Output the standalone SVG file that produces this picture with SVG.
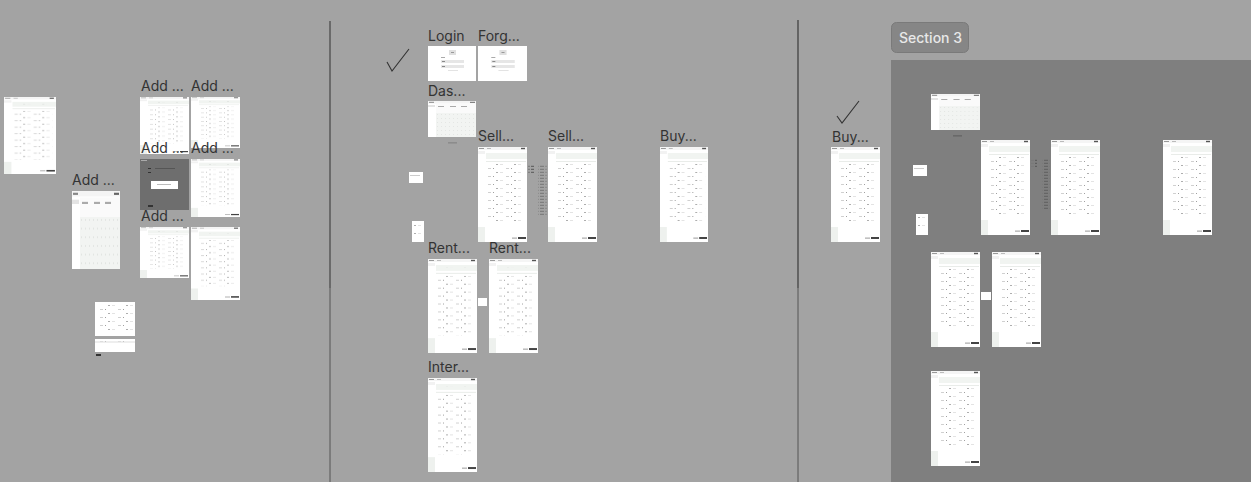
<svg xmlns="http://www.w3.org/2000/svg" xmlns:xlink="http://www.w3.org/1999/xlink" width="1251" height="482" viewBox="0 0 1251 482">
<style>
.lbl{font-family:Inter,"Liberation Sans",sans-serif;font-size:14px;fill:#333;}
.sec{font-family:Inter,"Liberation Sans",sans-serif;font-size:14px;font-weight:500;fill:#e8e8e8;}
.chk{fill:none;stroke:#333;stroke-width:1.1;}
</style>
<defs>
<pattern id="tx" width="18" height="8" patternUnits="userSpaceOnUse">
<rect x="0" y="1" width="2" height="0.8" fill="#9a9a9a"/>
<rect x="4" y="1" width="3" height="0.8" fill="#dcdcdc"/>
<rect x="10" y="5" width="3" height="0.8" fill="#c4c4c4"/>
<rect x="15" y="5" width="1" height="0.8" fill="#888"/>
</pattern>
<pattern id="dt" width="4" height="4" patternUnits="userSpaceOnUse">
<rect x="1" y="1" width="0.7" height="0.7" fill="#d5d8d5"/>
</pattern>
<pattern id="col" width="9" height="3" patternUnits="userSpaceOnUse">
<rect x="0" y="0.8" width="4" height="1" fill="#555"/>
<rect x="5" y="0.8" width="3" height="1" fill="#777"/>
</pattern>
<symbol id="page" viewBox="0 0 49 95" preserveAspectRatio="none">
<rect width="49" height="95" fill="#fff"/>
<rect x="0" y="0" width="49" height="3" fill="#f5f5f5"/>
<rect x="1" y="1" width="5" height="1" fill="#999"/>
<rect x="9" y="1" width="4" height="1" fill="#bbb"/>
<rect x="43" y="0.8" width="4" height="1.4" fill="#555"/>
<rect x="0" y="4" width="7" height="3" fill="#f2f2f2"/>
<rect x="8" y="6" width="41" height="6" fill="#f1f4f1"/>
<rect x="10" y="8" width="30" height="1" fill="url(#tx)"/>
<rect x="8" y="14" width="40" height="1" fill="#e9ece9"/>
<rect x="9" y="17" width="37" height="60" fill="url(#tx)"/>
<rect x="0" y="80" width="7" height="15" fill="#eef1ee"/>
<rect x="40" y="90" width="8" height="2" fill="#444"/>
<rect x="34" y="90.6" width="5" height="1" fill="#999"/>
</symbol>
<symbol id="dash" viewBox="0 0 48 36" preserveAspectRatio="none">
<rect width="48" height="36" fill="#fff"/>
<rect x="0" y="0" width="48" height="2.5" fill="#f4f4f4"/>
<rect x="1" y="0.8" width="5" height="1" fill="#888"/>
<rect x="42" y="0.8" width="5" height="1" fill="#666"/>
<rect x="0" y="4" width="7" height="2" fill="#e4e4e4"/>
<rect x="8" y="3" width="40" height="9" fill="#fafafa"/>
<rect x="10" y="5" width="6" height="1" fill="#aaa"/>
<rect x="22" y="5" width="6" height="1" fill="#aaa"/>
<rect x="33" y="5" width="6" height="1" fill="#aaa"/>
<rect x="8" y="12" width="40" height="24" fill="#f2f4f2"/>
<rect x="8" y="12" width="40" height="24" fill="url(#dt)"/>
</symbol>
<symbol id="login" viewBox="0 0 48 35" preserveAspectRatio="none">
<rect width="48" height="35" fill="#fff"/>
<rect x="21" y="4" width="7" height="5" fill="#e0e0e0"/>
<rect x="23" y="6" width="3" height="1" fill="#999"/>
<rect x="13" y="11" width="4" height="1" fill="#aaa"/>
<rect x="13" y="14" width="23" height="3" fill="#e6e6e6"/>
<rect x="14" y="15" width="3" height="1" fill="#888"/>
<rect x="18" y="15" width="16" height="0.8" fill="url(#dt)"/>
<rect x="13" y="19" width="23" height="3" fill="#e6e6e6"/>
<rect x="14" y="20" width="3" height="1" fill="#888"/>
<rect x="20" y="24" width="10" height="0.8" fill="#ddd"/>
</symbol>
</defs>
<rect width="1251" height="482" fill="#a3a3a3"/>
<g id="section-3">
<rect x="891" y="60" width="360" height="422" fill="#7f7f7f"/>
<rect x="891.5" y="22.5" width="77" height="30" rx="5" fill="#868686" stroke="#7a7a7a"/>
<text class="sec" x="899" y="43">Section 3</text>
</g>
<g id="dividers">
<line x1="330" y1="21" x2="330" y2="288" stroke="#6a6a6a" stroke-width="2"/>
<line x1="330" y1="288" x2="330" y2="482" stroke="#555" stroke-width="1"/>
<line x1="798" y1="20" x2="798" y2="288" stroke="#3a3a3a" stroke-width="1.2"/>
<line x1="798" y1="288" x2="798" y2="482" stroke="#555" stroke-width="1"/>
</g>
<g id="checks">
<polyline class="chk" points="387,62 392,71 409,49"/>
<polyline class="chk" points="837,116 842,123 859,101"/>
</g>
<g id="left-frames">
<g id="f-l1"><use href="#page" x="4" y="97" width="52" height="77"/></g>
<g id="f-l2"><text class="lbl" x="72" y="185">Add ...</text><use href="#dash" x="72" y="191" width="48" height="78"/></g>
<g id="f-l3"><use href="#page" x="140" y="97" width="49" height="57"/><text class="lbl" x="141" y="91">Add ...</text></g>
<g id="f-l4"><use href="#page" x="191" y="97" width="49" height="51"/><text class="lbl" x="191" y="91">Add ...</text></g>
<g id="f-l5">
<rect x="140" y="159" width="49" height="51" fill="#6e6e6e"/>
<rect x="141" y="160" width="6" height="1" fill="#aaa"/>
<rect x="148" y="168" width="3" height="1" fill="#333"/>
<rect x="148" y="172" width="3" height="1" fill="#333"/>
<rect x="155" y="168" width="20" height="1" fill="#555"/>
<rect x="151" y="181" width="27" height="8" fill="#fff"/>
<rect x="157" y="184" width="14" height="1" fill="#bbb"/>
<rect x="148" y="205" width="5" height="2" fill="#333"/>
<text class="lbl" x="141" y="153">Add ...</text>
</g>
<g id="f-l6"><use href="#page" x="191" y="159" width="49" height="58"/><text class="lbl" x="191" y="153">Add ...</text></g>
<g id="f-l7"><use href="#page" x="140" y="227" width="49" height="51"/><text class="lbl" x="141" y="221">Add ...</text></g>
<g id="f-l8"><use href="#page" x="191" y="227" width="49" height="73"/></g>
<g id="f-l9">
<rect x="95" y="302" width="40" height="34" fill="#fff"/>
<rect x="97" y="305" width="36" height="28" fill="url(#tx)"/>
<rect x="95" y="339" width="40" height="13" fill="#fff"/>
<rect x="95" y="341" width="40" height="2" fill="#eee"/>
<rect x="96" y="341.5" width="38" height="1" fill="url(#tx)"/>
<rect x="96" y="354" width="5" height="2" fill="#333"/>
</g>
</g>
<g id="middle-frames">
<g id="f-login"><text class="lbl" x="428" y="41">Login</text><use href="#login" x="428" y="46" width="48" height="35"/></g>
<g id="f-forgot"><text class="lbl" x="478" y="41">Forg...</text><use href="#login" x="478" y="46" width="49" height="35"/></g>
<g id="f-dash"><text class="lbl" x="428" y="96">Das...</text><use href="#dash" x="428" y="101" width="48" height="36"/><rect x="448" y="142.5" width="9" height="0.8" fill="#777"/></g>
<g id="f-small1"><rect x="409" y="172" width="14" height="11" fill="#fff"/><rect x="410" y="175" width="10" height="1" fill="#ccc"/></g>
<g id="f-small2"><rect x="412" y="221" width="12" height="21" fill="#fff"/><rect x="413" y="223" width="8" height="17" fill="url(#tx)"/></g>
<g id="f-sell1"><text class="lbl" x="478" y="141">Sell...</text><use href="#page" x="478" y="147" width="49" height="95"/></g>
<g id="f-notes1"><rect x="528" y="164" width="6" height="10" fill="url(#col)"/><rect x="538" y="164" width="9" height="52" fill="url(#col)" opacity="0.6"/></g>
<g id="f-sell2"><text class="lbl" x="548" y="141">Sell...</text><use href="#page" x="548" y="147" width="49" height="95"/></g>
<g id="f-buy1"><text class="lbl" x="660" y="141">Buy...</text><use href="#page" x="660" y="147" width="48" height="95"/></g>
<g id="f-rent1"><text class="lbl" x="428" y="253">Rent...</text><use href="#page" x="428" y="259" width="49" height="94"/></g>
<g id="f-small3"><rect x="478" y="298" width="9" height="8" fill="#fff"/></g>
<g id="f-rent2"><text class="lbl" x="489" y="253">Rent...</text><use href="#page" x="489" y="259" width="49" height="94"/></g>
<g id="f-inter"><text class="lbl" x="428" y="372">Inter...</text><use href="#page" x="428" y="378" width="49" height="94"/></g>
</g>
<g id="right-frames">
<g id="f-buy2"><text class="lbl" x="832" y="142">Buy...</text><use href="#page" x="831" y="147" width="49" height="95"/></g>
<g id="f-s3dash"><use href="#dash" x="931" y="94" width="49" height="36"/><rect x="953" y="135.5" width="9" height="0.8" fill="#555"/></g>
<g id="f-s3small1"><rect x="913" y="165" width="14" height="11" fill="#fff"/><rect x="914" y="168" width="10" height="1" fill="#ccc"/></g>
<g id="f-s3small2"><rect x="916" y="214" width="12" height="21" fill="#fff"/><rect x="917" y="216" width="8" height="17" fill="url(#tx)"/></g>
<g id="f-s3a"><use href="#page" x="981" y="140" width="49" height="95"/></g>
<g id="f-s3notes"><rect x="1031" y="158" width="6" height="10" fill="url(#col)"/><rect x="1042" y="158" width="8" height="52" fill="url(#col)" opacity="0.8"/></g>
<g id="f-s3b"><use href="#page" x="1051" y="140" width="49" height="95"/></g>
<g id="f-s3c"><use href="#page" x="1163" y="140" width="49" height="95"/></g>
<g id="f-s3d"><use href="#page" x="931" y="252" width="49" height="95"/></g>
<g id="f-s3small3"><rect x="981" y="292" width="10" height="8" fill="#fff"/></g>
<g id="f-s3e"><use href="#page" x="992" y="252" width="49" height="95"/></g>
<g id="f-s3f"><use href="#page" x="931" y="371" width="49" height="95"/></g>
</g>
</svg>
